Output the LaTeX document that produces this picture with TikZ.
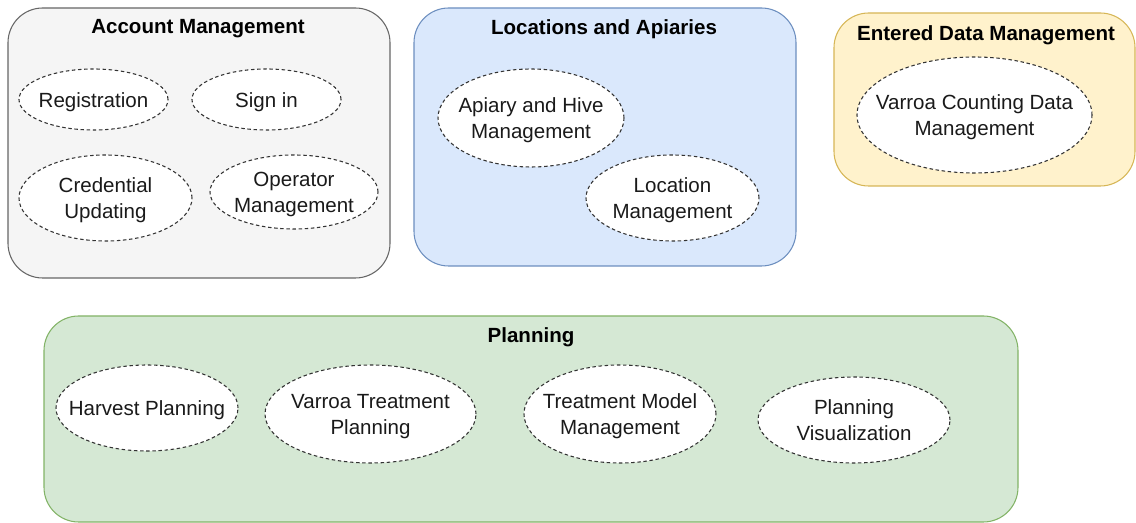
\documentclass[tikz,border=0pt]{standalone}
\usepackage{fontspec}
\setmainfont{Liberation Sans}
\usetikzlibrary{shapes.geometric}

\definecolor{grayfill}{HTML}{F5F5F5}
\definecolor{grayline}{HTML}{666666}
\definecolor{bluefill}{HTML}{DAE8FC}
\definecolor{blueline}{HTML}{6C8EBF}
\definecolor{yellowfill}{HTML}{FFF2CC}
\definecolor{yellowline}{HTML}{D6B656}
\definecolor{greenfill}{HTML}{D5E8D4}
\definecolor{greenline}{HTML}{82B366}
\definecolor{inktext}{HTML}{1A1A1A}

% text that does not grow the ellipse
\newcommand{\uctext}[1]{\smash{\makebox[0pt]{\raisebox{\dimexpr-0.25em-1.5pt\relax}{\begin{tabular}{@{}c@{}}#1\end{tabular}}}}}

\tikzset{
  group/.style={draw, line width=0.8pt, rounded corners=26pt},
  grouptitle/.style={font=\fontsize{15.4}{18}\selectfont\bfseries, text=black},
  usecase/.style={ellipse, draw=black!80, fill=white, dashed,
    dash pattern=on 2.6pt off 2pt, line width=0.8pt, inner sep=0pt,
    text=inktext, font=\fontsize{15.4}{19.5}\selectfont}
}

\begin{document}
\begin{tikzpicture}[x=0.75pt,y=-0.75pt]
\useasboundingbox (0,0) rectangle (1136,523);

% groups
\draw[group, draw=grayline, fill=grayfill] (8,8) rectangle (390,278);
\draw[group, draw=blueline, fill=bluefill] (414,8) rectangle (796,266);
\draw[group, draw=yellowline, fill=yellowfill] (834,13) rectangle (1135,186);
\draw[group, draw=greenline, fill=greenfill] (44,316) rectangle (1018,522);

\node[grouptitle] (acct) at (198,29) {Account Management};
\node[grouptitle] (loc) at (604,29) {Locations and Apiaries};
\node[grouptitle] (data) at (986,35) {Entered Data Management};
\node[grouptitle] (plan) at (531,337) {Planning};

% account management
\node[usecase, minimum width=111.75pt, minimum height=45.75pt] (reg) at (93.5,99.5) {\uctext{Registration}};
\node[usecase, minimum width=111.75pt, minimum height=45.75pt] (sign) at (266.5,99.5) {\uctext{Sign in}};
\node[usecase, minimum width=129.75pt, minimum height=64.5pt] (cred) at (105.5,198) {\uctext{Credential\\Updating}};
\node[usecase, minimum width=126pt, minimum height=55.5pt] (oper) at (294,192) {\uctext{Operator\\Management}};

% locations and apiaries
\node[usecase, minimum width=139.5pt, minimum height=73.5pt] (hive) at (531,118) {\uctext{Apiary and Hive\\Management}};
\node[usecase, minimum width=129.75pt, minimum height=64.5pt] (locm) at (672.5,198) {\uctext{Location\\Management}};

% entered data
\node[usecase, minimum width=176.25pt, minimum height=87pt] (count) at (974.5,115) {\uctext{Varroa Counting Data\\Management}};

% planning
\node[usecase, minimum width=136.5pt, minimum height=64.5pt] (harv) at (147,408) {\uctext{Harvest Planning}};
\node[usecase, minimum width=158.25pt, minimum height=73.5pt] (treat) at (370.5,414) {\uctext{Varroa Treatment\\Planning}};
\node[usecase, minimum width=144pt, minimum height=73.5pt] (model) at (620,414) {\uctext{Treatment Model\\Management}};
\node[usecase, minimum width=144pt, minimum height=64.5pt] (vis) at (854,420) {\uctext{Planning\\Visualization}};
\end{tikzpicture}
\end{document}
